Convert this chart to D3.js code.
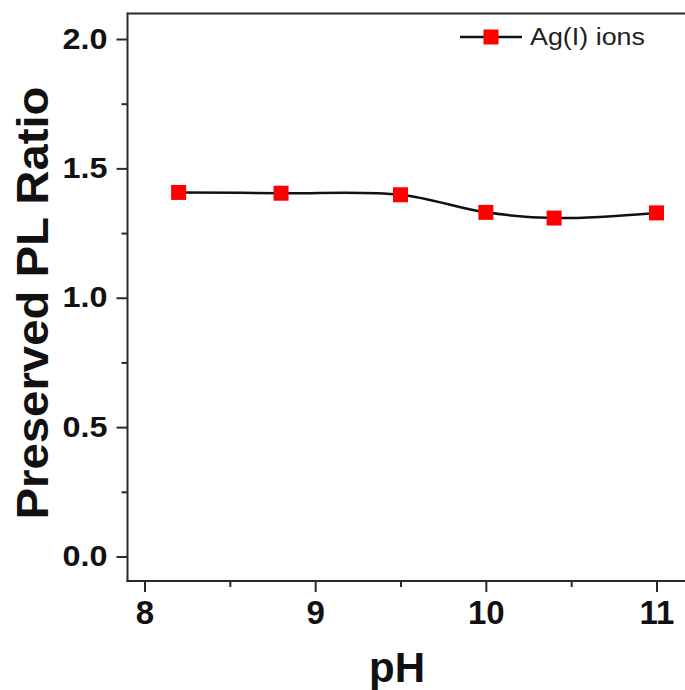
<!DOCTYPE html>
<html>
<head>
<meta charset="utf-8">
<script src="https://cdn.jsdelivr.net/npm/d3@7"></script>
<style>
  html, body { margin: 0; padding: 0; background: #fff; }
  svg { display: block; }
</style>
</head>
<body>
<svg id="chart" width="685" height="690"></svg>
<script>
const phValues = [8.2, 8.8, 9.5, 10.0, 10.4, 11.0];
const ratioValues = [1.407, 1.404, 1.398, 1.330, 1.308, 1.328];
const seriesName = "Ag(I) ions";
const xTicks = [8, 9, 10, 11];
const xMinorTicks = [8.5, 9.5, 10.5];
const yTicks = [0.0, 0.5, 1.0, 1.5, 2.0];
const yMinorTicks = [0.25, 0.75, 1.25, 1.75];
const xTitle = "pH";
const yTitle = "Preserved PL Ratio";

const svg = d3.select("#chart");
const plotLeft = 127.5, plotTop = 13.5, plotBottom = 581, plotRight = 690;
const font = "'Liberation Sans', Arial, sans-serif";

const x = d3.scaleLinear().domain([8, 11]).range([144.5, 656.5]);
const y = d3.scaleLinear().domain([0, 2]).range([556.5, 39]);

const axisColor = "#2a2a2a";

// frame top line
svg.append("line").attr("x1", plotLeft).attr("x2", plotRight).attr("y1", plotTop).attr("y2", plotTop)
  .attr("stroke", axisColor).attr("stroke-width", 2);

// x axis
const xAxis = svg.append("g").attr("transform", `translate(0,${plotBottom})`)
  .call(d3.axisBottom(x).tickValues(xTicks).tickFormat(d3.format("d")).tickSize(11).tickPadding(9));
xAxis.select(".domain").remove();
svg.append("g").attr("transform", `translate(0,${plotBottom})`)
  .call(d3.axisBottom(x).tickValues(xMinorTicks).tickFormat("").tickSize(6))
  .select(".domain").remove();

// y axis
const yAxis = svg.append("g").attr("transform", `translate(${plotLeft},0)`)
  .call(d3.axisLeft(y).tickValues(yTicks).tickFormat(d3.format(".1f")).tickSize(11).tickPadding(9));
yAxis.select(".domain").remove();
svg.append("g").attr("transform", `translate(${plotLeft},0)`)
  .call(d3.axisLeft(y).tickValues(yMinorTicks).tickFormat("").tickSize(6))
  .select(".domain").remove();

svg.selectAll(".tick line").attr("stroke", axisColor).attr("stroke-width", 2);

xAxis.selectAll(".tick text")
  .attr("font-family", font).attr("font-weight", "bold").attr("font-size", 33)
  .attr("fill", "#111");
yAxis.selectAll(".tick text")
  .attr("font-family", font).attr("font-weight", "bold").attr("font-size", 30)
  .attr("fill", "#111").attr("textLength", 45).attr("lengthAdjust", "spacingAndGlyphs")
  .attr("dy", "0.3em");

svg.append("line").attr("x1", plotLeft).attr("x2", plotLeft).attr("y1", plotTop - 1).attr("y2", plotBottom + 1)
  .attr("stroke", axisColor).attr("stroke-width", 2);
svg.append("line").attr("x1", plotLeft - 1).attr("x2", plotRight).attr("y1", plotBottom).attr("y2", plotBottom)
  .attr("stroke", axisColor).attr("stroke-width", 2);

// axis titles
svg.append("text").attr("x", 397).attr("y", 682).attr("text-anchor", "middle")
  .attr("font-family", font).attr("font-weight", "bold").attr("font-size", 42)
  .attr("fill", "#111").text(xTitle);
svg.append("text").attr("transform", "translate(48,303) rotate(-90)").attr("text-anchor", "middle")
  .attr("font-family", font).attr("font-weight", "bold").attr("font-size", 44)
  .attr("fill", "#111").attr("textLength", 433).attr("lengthAdjust", "spacingAndGlyphs")
  .text(yTitle);

// data line
const data = phValues.map((p, i) => ({ p, r: ratioValues[i] }));
const line = d3.line().x(d => x(d.p)).y(d => y(d.r)).curve(d3.curveCatmullRom.alpha(0.5));
svg.append("path").datum(data).attr("d", line)
  .attr("fill", "none").attr("stroke", "#111").attr("stroke-width", 2.5);

const ms = 15;
svg.selectAll("rect.pt").data(data).join("rect").attr("class", "pt")
  .attr("x", d => x(d.p) - ms / 2).attr("y", d => y(d.r) - ms / 2)
  .attr("width", ms).attr("height", ms).attr("fill", "#ff0000");

// legend
const lg = svg.append("g");
lg.append("line").attr("x1", 460).attr("x2", 522).attr("y1", 37).attr("y2", 37)
  .attr("stroke", "#111").attr("stroke-width", 2.5);
lg.append("rect").attr("x", 491 - ms / 2).attr("y", 37 - ms / 2).attr("width", ms).attr("height", ms)
  .attr("fill", "#ff0000");
lg.append("text").attr("x", 530).attr("y", 45).attr("font-family", font).attr("font-size", 23)
  .attr("fill", "#222").attr("textLength", 115).attr("lengthAdjust", "spacingAndGlyphs")
  .text(seriesName);
</script>
</body>
</html>
